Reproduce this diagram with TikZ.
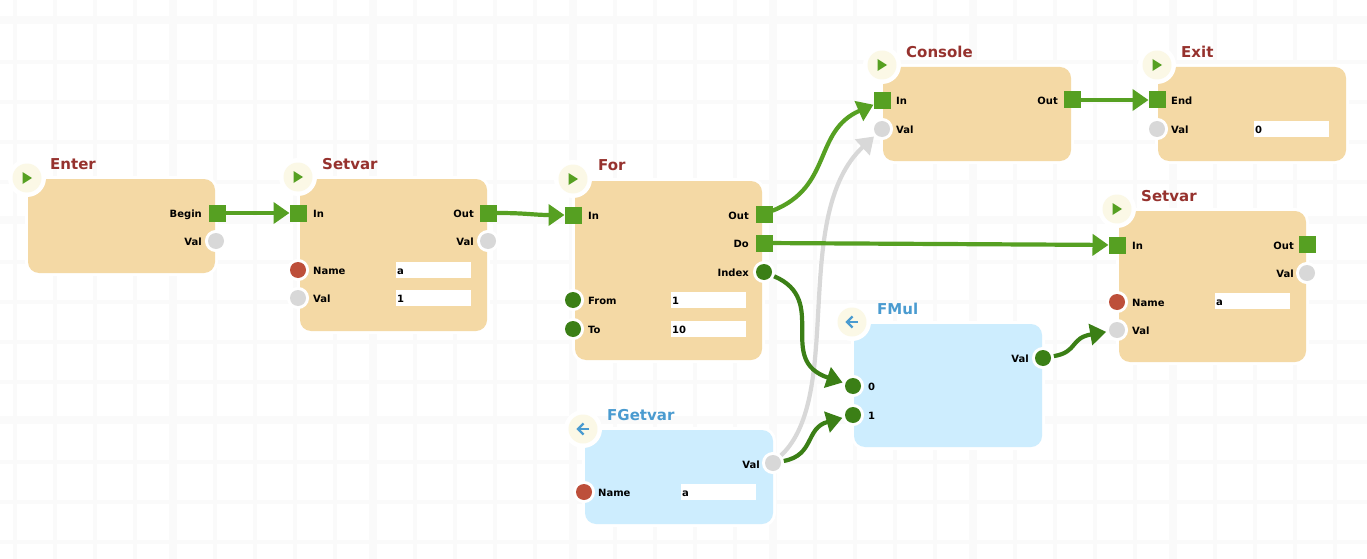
\documentclass[tikz,border=0pt]{standalone}
\usepackage{fontspec}
\setmainfont{DejaVu Sans}
\usetikzlibrary{arrows.meta}
\definecolor{gridc}{HTML}{FAFAFA}
\definecolor{boxo}{HTML}{F4D9A5}
\definecolor{boxb}{HTML}{CDEDFE}
\definecolor{sqg}{HTML}{56A022}
\definecolor{dkg}{HTML}{3B7F16}
\definecolor{gry}{HTML}{D8D8D8}
\definecolor{redp}{HTML}{BD4F3A}
\definecolor{titr}{HTML}{96322E}
\definecolor{titb}{HTML}{4A9BD0}
\definecolor{crm}{HTML}{FBF8E6}
\tikzset{
 x=1pt,y=-1pt,
 boxbase/.style={rectangle,rounded corners=11pt,inner sep=0pt,outer sep=0pt,preaction={draw=white,line width=6pt}},
 orangebox/.style={boxbase,fill=boxo},
 bluebox/.style={boxbase,fill=boxb},
 sqport/.style={rectangle,fill=sqg,minimum size=17pt,inner sep=0pt,outer sep=0pt},
 cport/.style={circle,minimum size=16pt,inner sep=0pt,outer sep=0pt,preaction={draw=white,line width=6pt}},
 gport/.style={cport,fill=dkg},
 nport/.style={cport,fill=gry},
 rport/.style={cport,fill=redp},
 llab/.style={anchor=base west,inner sep=0pt,font=\fontsize{10}{12}\selectfont\bfseries},
 rlab/.style={anchor=base east,inner sep=0pt,font=\fontsize{10}{12}\selectfont\bfseries},
 ttl/.style={anchor=base west,inner sep=0pt,font=\fontsize{15}{18}\selectfont\bfseries},
 field/.style={rectangle,fill=white,minimum width=75pt,minimum height=16pt,text width=73pt,inner xsep=1pt,inner ysep=0pt,text height=8pt,text depth=0pt,anchor=north west,font=\fontsize{10}{12}\selectfont\bfseries},
 halo/.style={circle,fill=white,minimum size=38pt,inner sep=0pt,outer sep=0pt},
 icon/.style={circle,fill=crm,minimum size=29pt,inner sep=0pt,outer sep=0pt},
 wire/.style={line width=4.2pt,-{Triangle[length=16pt,width=21pt]}},
 wireg/.style={wire,draw=sqg},
 wired/.style={wire,draw=dkg,shorten <=3pt,shorten >=3pt},
 wiren/.style={wire,draw=gry,shorten <=3pt,shorten >=3pt},
}
\newcommand{\boxat}[6]{% name style x1 y1 x2 y2
 \node[#2,minimum width=#5pt-#3pt,minimum height=#6pt-#4pt,anchor=north west] (#1) at (#3,#4) {};}
\newcommand{\playicon}[3]{%
 \node[halo] at (#2,#3) {};
 \node[icon] (#1) at (#2,#3) {};
 \fill[sqg] (#2-4.5,#3-6) -- (#2+5,#3) -- (#2-4.5,#3+6) -- cycle;}
\newcommand{\backicon}[3]{%
 \node[halo] at (#2,#3) {};
 \node[icon] (#1) at (#2,#3) {};
 \draw[titb,line width=2.4pt] (#2+6,#3) -- (#2-5,#3);
 \draw[titb,line width=2.4pt] (#2+0.5,#3-5.5) -- (#2-5,#3) -- (#2+0.5,#3+5.5);}
\begin{document}
\begin{tikzpicture}
\useasboundingbox (0,0) rectangle (1367,559);
\fill[white] (0,0) rectangle (1367,559);
% grid
\foreach \k in {0,...,34} \fill[gridc] (13+40*\k,0) rectangle (16.7+40*\k,559);
\foreach \k in {0,...,13} \fill[gridc] (0,60+40*\k) rectangle (1367,64+40*\k);
\foreach \k in {0,...,6} \fill[gridc] (169+200*\k,0) rectangle (176.7+200*\k,559);
\foreach \k in {0,1,2} \fill[gridc] (0,16+200*\k) rectangle (1367,24+200*\k);
% boxes
\boxat{enter}{orangebox}{28}{179}{215}{273}
\boxat{setvarA}{orangebox}{300}{179}{487}{331}
\boxat{forb}{orangebox}{575}{181}{762}{360}
\boxat{console}{orangebox}{883}{67}{1071}{161}
\boxat{exitb}{orangebox}{1158}{67}{1346}{161}
\boxat{setvarB}{orangebox}{1119}{211}{1306}{362}
\boxat{fmul}{bluebox}{854}{324}{1042}{447}
\boxat{fget}{bluebox}{585}{430}{773}{524}
% icons
\playicon{ienter}{27}{178}
\playicon{isetA}{298}{177}
\playicon{ifor}{573}{179}
\playicon{icons}{882}{65}
\playicon{iexit}{1157}{65}
\playicon{isetB}{1117}{209}
\backicon{ifmul}{852}{322}
\backicon{ifget}{583}{429}
% titles
\node[ttl,text=titr] (tenter) at (50,169) {Enter};
\node[ttl,text=titr] (tsetA) at (322,169) {Setvar};
\node[ttl,text=titr] (tfor) at (598,170) {For};
\node[ttl,text=titr] (tcons) at (906,58) {Console};
\node[ttl,text=titr] (texit) at (1181,58) {Exit};
\node[ttl,text=titr] (tsetB) at (1141,201) {Setvar};
\node[ttl,text=titb] (tfmul) at (877,314) {FMul};
\node[ttl,text=titb] (tfget) at (607,420) {FGetvar};
% ports
\node[sqport] (eBegin) at (217,213) {};
\node[nport] (eVal) at (216,241) {};
\node[sqport] (aIn) at (298,213) {};
\node[sqport] (aOut) at (488,213) {};
\node[nport] (aVo) at (488,241) {};
\node[rport] (aName) at (298,270) {};
\node[nport] (aVal) at (298,298) {};
\node[sqport] (fIn) at (573,215) {};
\node[sqport] (fOut) at (764,214) {};
\node[sqport] (fDo) at (764,243) {};
\node[gport] (fIndex) at (764,272) {};
\node[gport] (fFrom) at (573,300) {};
\node[gport] (fTo) at (573,329) {};
\node[sqport] (cIn) at (882,101) {};
\node[nport] (cVal) at (882,129) {};
\node[sqport] (cOut) at (1072,100) {};
\node[sqport] (xEnd) at (1157,100) {};
\node[nport] (xVal) at (1157,129) {};
\node[sqport] (bIn) at (1117,245) {};
\node[sqport] (bOut) at (1307,244) {};
\node[nport] (bVo) at (1307,273) {};
\node[rport] (bName) at (1117,302) {};
\node[nport] (bVal) at (1117,330) {};
\node[gport] (mZero) at (853,386) {};
\node[gport] (mOne) at (853,415) {};
\node[gport] (mVal) at (1043,358) {};
\node[nport] (gVal) at (773,463) {};
\node[rport] (gName) at (584,492) {};
% labels
\node[rlab] (lb1) at (202,217) {Begin};
\node[rlab] (lb2) at (202,245) {Val};
\node[llab] (lb3) at (313,217) {In};
\node[rlab] (lb4) at (474,217) {Out};
\node[rlab] (lb5) at (474,245) {Val};
\node[llab] (lb6) at (313,274) {Name};
\node[llab] (lb7) at (313,302) {Val};
\node[llab] (lb8) at (588,219) {In};
\node[rlab] (lb9) at (749,219) {Out};
\node[rlab] (lb10) at (749,247) {Do};
\node[rlab] (lb11) at (749,276) {Index};
\node[llab] (lb12) at (588,304) {From};
\node[llab] (lb13) at (588,333) {To};
\node[llab] (lb14) at (896,105) {In};
\node[llab] (lb15) at (896,133) {Val};
\node[rlab] (lb16) at (1058,105) {Out};
\node[llab] (lb17) at (1171,105) {End};
\node[llab] (lb18) at (1171,133) {Val};
\node[llab] (lb19) at (1132,249) {In};
\node[rlab] (lb20) at (1294,249) {Out};
\node[rlab] (lb21) at (1294,277) {Val};
\node[llab] (lb22) at (1132,306) {Name};
\node[llab] (lb23) at (1132,334) {Val};
\node[llab] (lb24) at (868,390) {0};
\node[llab] (lb25) at (868,419) {1};
\node[rlab] (lb26) at (1029,362) {Val};
\node[rlab] (lb27) at (760,468) {Val};
\node[llab] (lb28) at (598,496) {Name};
% fields
\node[field] (fa1) at (396,262) {a};
\node[field] (fa2) at (396,290) {1};
\node[field] (ff1) at (671,292) {1};
\node[field] (ff2) at (671,321) {10};
\node[field] (fx1) at (1254,121) {0};
\node[field] (fb1) at (1215,293) {a};
\node[field] (fg1) at (681,484) {a};
% connectors
\draw[wiren] (gVal) .. controls +(72,-68) and +(-92,86) .. (cVal);
\draw[wireg] (eBegin) -- (aIn);
\draw[wireg] (aOut) .. controls +(40,0) and +(-40,0) .. (fIn);
\draw[wireg] (fOut) .. controls +(69,-27) and +(-69,30) .. (cIn);
\draw[wireg] (cOut) -- (xEnd);
\draw[wireg] (fDo) -- (bIn);
\draw[wired] (fIndex) .. controls +(66,28) and +(-78,-26) .. (mZero);
\draw[wired] (gVal) .. controls +(42,-8) and +(-48,13) .. (mOne);
\draw[wired] (mVal) .. controls +(35,-6) and +(-47,8) .. (bVal);
\end{tikzpicture}
\end{document}
